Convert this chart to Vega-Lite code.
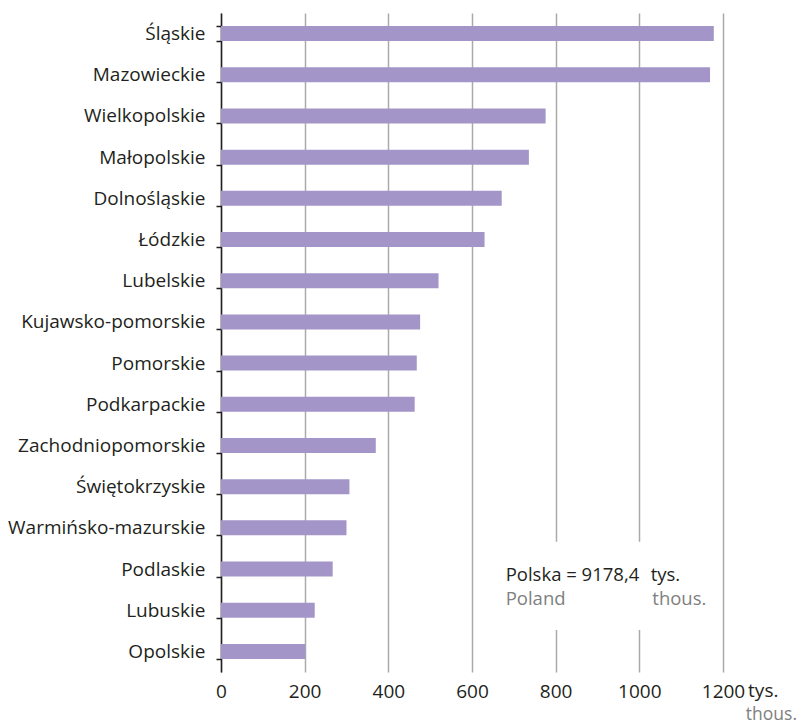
{
  "$schema": "https://vega.github.io/schema/vega-lite/v6.json",
  "width": 502,
  "height": 659,
  "autosize": {"type": "none"},
  "padding": {"left": 221, "top": 13, "right": 80, "bottom": 53},
  "background": "white",
  "config": {"view": {"stroke": null}, "font": "Open Sans"},
  "data": {
    "values": [
      {"region": "Śląskie", "value": 1178},
      {"region": "Mazowieckie", "value": 1169},
      {"region": "Wielkopolskie", "value": 776},
      {"region": "Małopolskie", "value": 736},
      {"region": "Dolnośląskie", "value": 671},
      {"region": "Łódzkie", "value": 630},
      {"region": "Lubelskie", "value": 520},
      {"region": "Kujawsko-pomorskie", "value": 476},
      {"region": "Pomorskie", "value": 468},
      {"region": "Podkarpackie", "value": 463},
      {"region": "Zachodniopomorskie", "value": 370},
      {"region": "Świętokrzyskie", "value": 307},
      {"region": "Warmińsko-mazurskie", "value": 300},
      {"region": "Podlaskie", "value": 267},
      {"region": "Lubuskie", "value": 224},
      {"region": "Opolskie", "value": 202}
    ]
  },
  "layer": [
    {
      "mark": {"type": "bar", "color": "#a395c8"},
      "encoding": {
        "y": {
          "field": "region", "type": "nominal", "sort": null,
          "scale": {"paddingInner": 0.635, "paddingOuter": 0.3175},
          "axis": {
            "title": null, "domainColor": "#231f20", "domainWidth": 1.5,
            "tickColor": "#231f20", "tickWidth": 1.5, "tickSize": 5, "tickBand": "extent",
            "labelFont": "Open Sans", "labelFontSize": 19, "labelColor": "#231f20",
            "labelPadding": 11, "labelLimit": 300
          }
        },
        "x": {
          "field": "value", "type": "quantitative",
          "scale": {"domain": [0, 1200], "nice": false},
          "axis": {
            "title": null, "values": [0, 200, 400, 600, 800, 1000, 1200], "format": "d",
            "grid": true, "gridColor": "#aaaaaa", "gridWidth": 1.5,
            "domain": false, "ticks": false,
            "labelFont": "Open Sans", "labelFontSize": 19, "labelColor": "#231f20",
            "labelPadding": 10, "labelFlush": false
          }
        }
      }
    },
    {
      "data": {"values": [{}]},
      "mark": {"type": "rect", "color": "white"},
      "encoding": {
        "x": {"datum": 700, "type": "quantitative"},
        "x2": {"datum": 1150},
        "y": {"datum": 3.16, "type": "quantitative", "scale": {"domain": [0, 16], "nice": false, "zero": false}, "axis": null},
        "y2": {"datum": 1.02}
      }
    },
    {
      "data": {"values": [{}]},
      "mark": {"type": "text", "text": "Polska = 9178,4", "align": "left", "baseline": "alphabetic", "fontSize": 18.5, "font": "Open Sans", "color": "#231f20"},
      "encoding": {
        "x": {"datum": 680.5, "type": "quantitative"},
        "y": {"datum": 2.2, "type": "quantitative", "scale": {"domain": [0, 16], "nice": false, "zero": false}, "axis": null}
      }
    },
    {
      "data": {"values": [{}]},
      "mark": {"type": "text", "text": "tys.", "align": "left", "baseline": "alphabetic", "fontSize": 18.5, "font": "Open Sans", "color": "#231f20"},
      "encoding": {
        "x": {"datum": 1027, "type": "quantitative"},
        "y": {"datum": 2.2, "type": "quantitative", "scale": {"domain": [0, 16], "nice": false, "zero": false}, "axis": null}
      }
    },
    {
      "data": {"values": [{}]},
      "mark": {"type": "text", "text": "Poland", "align": "left", "baseline": "alphabetic", "fontSize": 18.5, "font": "Open Sans", "color": "#808080"},
      "encoding": {
        "x": {"datum": 680.5, "type": "quantitative"},
        "y": {"datum": 1.63, "type": "quantitative", "scale": {"domain": [0, 16], "nice": false, "zero": false}, "axis": null}
      }
    },
    {
      "data": {"values": [{}]},
      "mark": {"type": "text", "text": "thous.", "align": "left", "baseline": "alphabetic", "fontSize": 18.5, "font": "Open Sans", "color": "#808080"},
      "encoding": {
        "x": {"datum": 1031, "type": "quantitative"},
        "y": {"datum": 1.63, "type": "quantitative", "scale": {"domain": [0, 16], "nice": false, "zero": false}, "axis": null}
      }
    },
    {
      "data": {"values": [{}]},
      "mark": {"type": "text", "text": "tys.", "align": "left", "baseline": "alphabetic", "fontSize": 19, "font": "Open Sans", "color": "#231f20"},
      "encoding": {
        "x": {"datum": 1260, "type": "quantitative"},
        "y": {"datum": -0.6, "type": "quantitative", "scale": {"domain": [0, 16], "nice": false, "zero": false}, "axis": null}
      }
    },
    {
      "data": {"values": [{}]},
      "mark": {"type": "text", "text": "thous.", "align": "right", "baseline": "alphabetic", "fontSize": 17.5, "font": "Open Sans", "color": "#808080"},
      "encoding": {
        "x": {"datum": 1377, "type": "quantitative"},
        "y": {"datum": -1.17, "type": "quantitative", "scale": {"domain": [0, 16], "nice": false, "zero": false}, "axis": null}
      }
    }
  ],
  "resolve": {"scale": {"y": "independent"}}
}
